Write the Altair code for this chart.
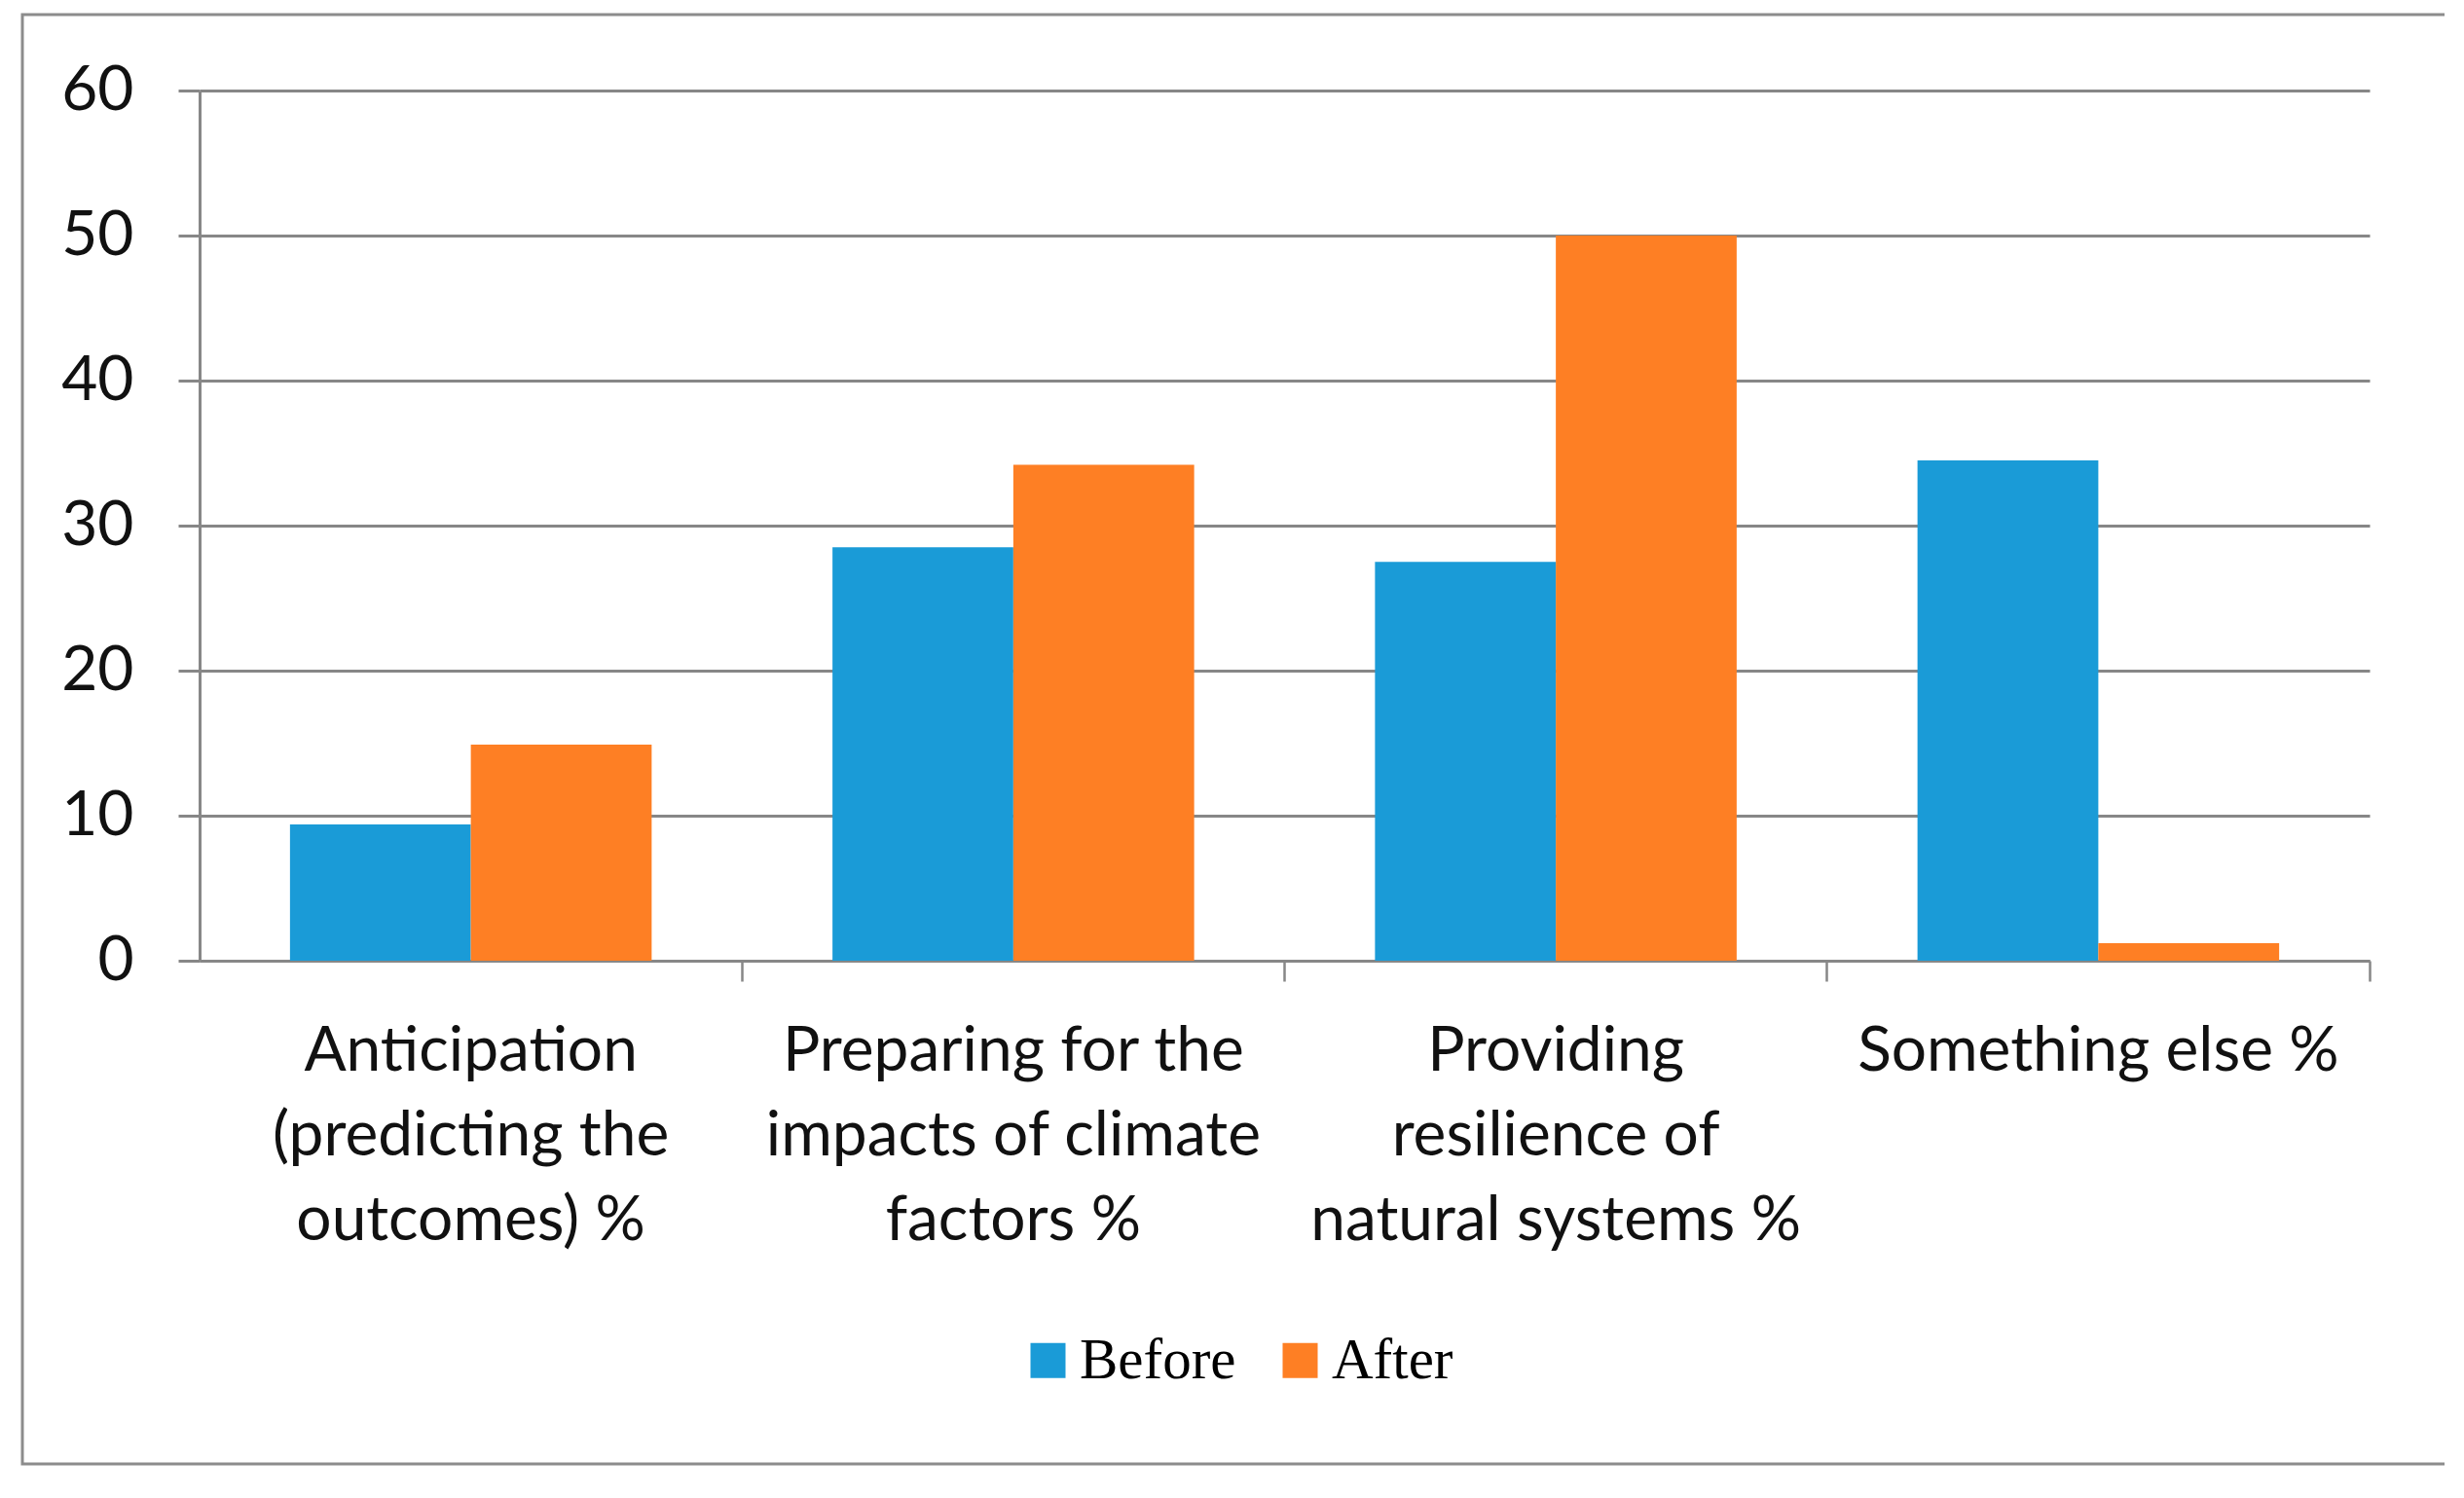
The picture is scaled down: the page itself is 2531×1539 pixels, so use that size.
import altair as alt
import pandas as pd

categories = [
    "Anticipation|(predicting the|outcomes) %",
    "Preparing for the|impacts of climate|factors %",
    "Providing|resilience of|natural systems %",
    "Something else %",
]
series = ["Before", "After"]
before = [9.4, 28.5, 27.5, 34.5]
after = [14.9, 34.2, 50.0, 1.2]
y_ticks = [0, 10, 20, 30, 40, 50, 60]
colors = ["#1a9bd7", "#fe7f24"]

rows = []
for c, b, a in zip(categories, before, after):
    rows.append({"category": c, "series": "Before", "value": b})
    rows.append({"category": c, "series": "After", "value": a})
df = pd.DataFrame(rows)

W, H = 2229, 894
GRAY = "#878787"

bars = alt.Chart(df).mark_bar().encode(
    x=alt.X(
        "category:N", sort=categories, title=None,
        scale=alt.Scale(paddingInner=1 / 3, paddingOuter=1 / 6),
        axis=alt.Axis(
            labelExpr="split(datum.label, '|')", labelAngle=0, labelFont="Lato",
            labelFontSize=64, labelLineHeight=87, labelColor="#111111",
            labelPadding=40, labelLimit=0, bandPosition=1.25,
            tickSize=21, tickColor=GRAY, tickWidth=2.5, domainColor=GRAY,
            domainWidth=3, grid=False,
        ),
    ),
    xOffset=alt.XOffset("series:N", sort=series,
                        scale=alt.Scale(paddingInner=0, paddingOuter=0)),
    y=alt.Y(
        "value:Q", title=None, scale=alt.Scale(domain=[0, 60], nice=False),
        axis=alt.Axis(
            values=y_ticks, labelFont="Lato", labelFontSize=64, labelColor="#111111",
            labelPadding=46, tickSize=22, tickColor=GRAY, tickWidth=3,
            domainColor=GRAY, domainWidth=3, gridColor=GRAY, gridWidth=3,
        ),
    ),
    color=alt.Color(
        "series:N", sort=series,
        scale=alt.Scale(domain=series, range=colors),
        legend=alt.Legend(
            title=None, orient="none", legendX=842, legendY=1275, direction="horizontal",
            symbolType="square", symbolSize=1296, symbolStrokeWidth=0,
            labelFont="Liberation Serif", labelFontSize=59, labelColor="#000000",
            labelOffset=3, columnPadding=36, padding=0, labelLimit=0,
        ),
    ),
)

frame = alt.Chart(pd.DataFrame({"f": [0]})).mark_rect(
    fill="transparent", stroke="#8c8c8c", strokeWidth=3
).encode(
    x=alt.value(-182), x2=alt.value(2308), y=alt.value(-78), y2=alt.value(1411)
)

chart = alt.layer(frame, bars).properties(
    width=W, height=H,
    padding={"left": 197, "top": 85, "right": 77, "bottom": 521},
    autosize=alt.AutoSizeParams(type="none"),
    background="white",
).configure_view(stroke=None)

chart.save("out.html", embed_options={"renderer": "svg", "actions": False})
